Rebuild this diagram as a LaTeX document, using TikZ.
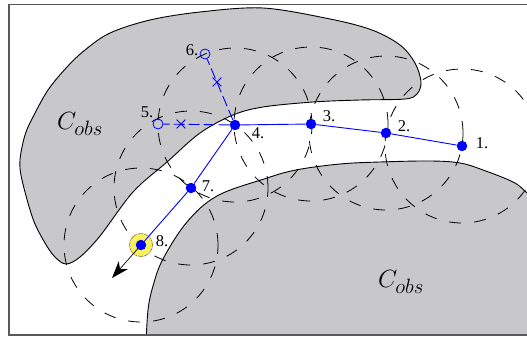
\documentclass[tikz,border=0pt]{standalone}
\usepackage{fontspec}
\setmainfont{Liberation Serif}
\usetikzlibrary{arrows.meta,patterns,shapes.misc}
\definecolor{obsgray}{RGB}{200,200,202}
\definecolor{framegray}{RGB}{90,90,90}
\definecolor{hlyellow}{RGB}{250,240,20}
\definecolor{hlborder}{RGB}{150,140,60}
\begin{document}
\begin{tikzpicture}[x=1pt,y=-1pt,
  obst/.style={fill=obsgray, draw=black, line width=0.9pt},
  reach/.style={draw=black, line width=0.8pt, dash pattern=on 12pt off 13pt},
  route/.style={draw=blue, line width=0.9pt},
  trial/.style={draw=blue, line width=0.9pt, dash pattern=on 11pt off 4pt},
  wp/.style={circle, fill=blue, inner sep=0pt, minimum size=10.5pt},
  cand/.style={circle, draw=blue, line width=0.8pt, inner sep=0pt, minimum size=10pt},
  xmark/.style={cross out, draw=blue, line width=0.8pt, inner sep=0pt, minimum size=8pt},
  lbl/.style={font=\fontsize{16.5}{18}\selectfont, inner sep=0pt},
  cobs/.style={font=\fontsize{28}{30}\selectfont, inner sep=0pt}]
\useasboundingbox (0,0) rectangle (527,339);

% node positions
\coordinate (p1) at (462,146);
\coordinate (p2) at (386,133);
\coordinate (p3) at (311,124);
\coordinate (p4) at (235,125);
\coordinate (p5) at (158,124);
\coordinate (p6) at (205,54);
\coordinate (p7) at (191,188);
\coordinate (p8) at (141,245);

\begin{scope}
\clip (9,4.5) rectangle (527,335);
% upper obstacle
\path[obst] plot[smooth cycle, tension=0.55] coordinates {
 (263,8) (330,19) (372,30) (400,45) (415,63) (421,82) (417,94) (405,99)
 (360,100) (313,102) (263,107) (233,115) (200,133) (167,162) (133,192)
 (100,236) (80,257) (66,264) (55,257) (45,243) (33,219) (22,180) (20,160)
 (25,135) (33,117) (48,90) (67,67) (85,50) (110,33) (150,20) (200,12)};
% lower obstacle
\path[obst] plot[smooth, tension=0.6] coordinates {
 (146,345) (148,310) (153,286) (163,259) (187,222) (217,196) (264,179)
 (296,170) (340,164) (380,162) (430,161) (460,163) (483,170) (513,182)
 (526,192) (545,210)} -- (545,345) -- cycle;
% reach circles
\foreach \p in {p1,p2,p3,p4,p7,p8}
  \draw[reach] (\p) circle (77pt);
\end{scope}

% highlight at 8
\node[circle, minimum size=23pt, inner sep=0pt, fill=hlyellow, draw=hlborder, line width=0.8pt,
      postaction={pattern=north east lines, pattern color=white}] (hl) at (p8) {};

% waypoints
\node[wp] (n1) at (p1) {};
\node[wp] (n2) at (p2) {};
\node[wp] (n3) at (p3) {};
\node[wp] (n4) at (p4) {};
\node[wp] (n7) at (p7) {};
\node[cand] (n5) at (p5) {};
\node[cand] (n6) at (p6) {};
\coordinate (x5) at (181,124);
\coordinate (x6) at (217,82);

\draw[route] (n1) -- (n2) -- (n3) -- (n4) -- (n7);
\draw[trial] (n4) -- (n5);
\draw[trial] (n4) -- (n6);
\node[xmark] (m5) at (x5) {};
\node[xmark] (m6) at (x6) {};

% arrow from 8
\coordinate (tip) at (112,278);
\draw[line width=0.7pt, -{Stealth[length=17pt,width=12pt,inset=5pt]}] (p8) -- (tip);
\node[wp] (n8) at (p8) {};
\draw[route] (n7) -- (n8);

% labels
\node[lbl] (l1) at (482,143) {1.};
\node[lbl] (l2) at (404,126) {2.};
\node[lbl] (l3) at (329,116) {3.};
\node[lbl] (l4) at (258,133) {4.};
\node[lbl] (l5) at (147,112) {5.};
\node[lbl] (l6) at (192,50) {6.};
\node[lbl] (l7) at (208,186) {7.};
\node[lbl] (l8) at (162,241) {8.};
\node[cobs] (c1) at (80,124) {$C_{obs}$};
\node[cobs] (c2) at (401,282) {$C_{obs}$};

% frame
\draw[framegray, line width=1.3pt] (530,4.5) -- (9,4.5) -- (9,335) -- (530,335);
\end{tikzpicture}
\end{document}
